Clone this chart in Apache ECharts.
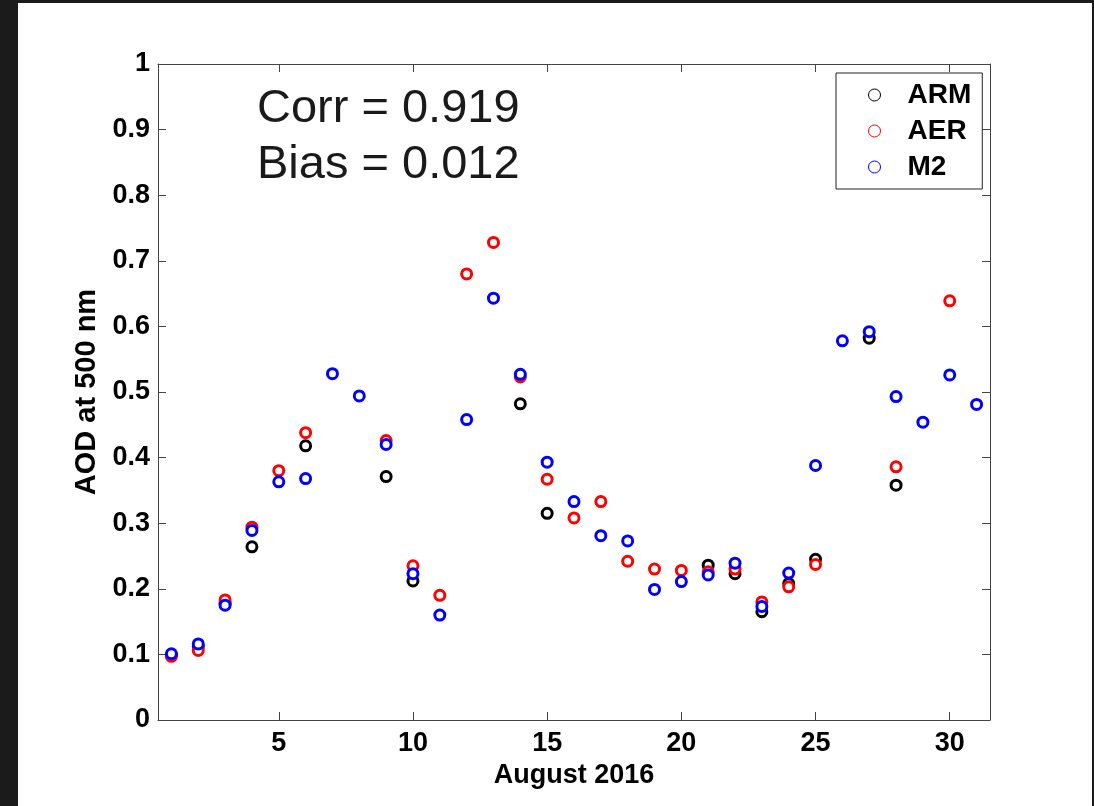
<!DOCTYPE html>
<html>
<head>
<meta charset="utf-8">
<title>AOD at 500 nm - August 2016</title>
<script src="https://cdn.jsdelivr.net/npm/echarts@6/dist/echarts.min.js"></script>
<style>
  html, body { margin: 0; padding: 0; background: #1b1b1b; }
  #main { position: absolute; left: 18px; top: 3px; width: 1074px; height: 803px; background: #fff; }
</style>
</head>
<body>
<div id="main"></div>
<script>
// days of August 2016
const days = [1, 2, 3, 4, 5, 6, 7, 8, 9, 10, 11, 12, 13, 14, 15, 16, 17, 18, 19, 20, 21, 22, 23, 24, 25, 26, 27, 28, 29, 30, 31]
// AOD values (null = no point)
const armValues = [0.099, 0.112, 0.178, 0.264, null, 0.418, null, null, 0.371, 0.212, null, null, null, 0.482, 0.315, null,
  null, null, null, null, 0.236, 0.223, 0.165, 0.208, 0.245, null, 0.582, 0.358, null, null, null]
const aerValues = [0.097, 0.106, 0.183, 0.294, 0.380, 0.438, null, null, 0.426, 0.235, 0.190, 0.680, 0.728, 0.523, 0.367, 0.308,
  0.333, 0.242, 0.230, 0.228, 0.226, 0.230, 0.180, 0.203, 0.237, null, null, 0.386, null, 0.639, null]
const m2Values = [0.101, 0.116, 0.175, 0.289, 0.363, 0.368, 0.528, 0.494, 0.420, 0.223, 0.160, 0.458, 0.643, 0.527, 0.393, 0.333,
  0.281, 0.273, 0.199, 0.211, 0.221, 0.239, 0.173, 0.224, 0.388, 0.578, 0.592, 0.493, 0.454, 0.526, 0.481]
const xTicks = [5, 10, 15, 20, 25, 30]
const seriesNames = ['ARM', 'AER', 'M2']
const seriesColors = ['#000000', '#ff0000', '#0000ff']
const statLines = ['Corr = 0.919', 'Bias = 0.012']

const FONT = '"Liberation Sans", Arial, Helvetica, sans-serif'
const AXIS_COLOR = '#444'

function toPoints(values) {
  const pts = []
  values.forEach((v, i) => {
    if (v !== null) pts.push([days[i], v])
  })
  return pts
}

const chart = echarts.init(document.getElementById('main'))

const valueSets = [armValues, aerValues, m2Values]
// hollow circles: white fill + coloured ring, M2 drawn last (on top)
const series = seriesNames.map((name, i) => ({
  name: name,
  type: 'scatter',
  symbol: 'circle',
  symbolSize: 10,
  itemStyle: {
    color: '#fff',
    borderColor: seriesColors[i],
    borderWidth: 3,
    opacity: 1
  },
  emphasis: { disabled: true },
  z: 2 + i,
  data: toPoints(valueSets[i])
}))

// shared look for the box axes (ticks pointing inward on all four sides)
const tickStyle = {
  show: true,
  inside: true,
  length: 8,
  lineStyle: { color: AXIS_COLOR, width: 1 }
}

chart.setOption({
  animation: false,
  textStyle: { fontFamily: FONT },
  grid: {
    left: 140,
    top: 61,
    right: 102,
    bottom: 86
  },
  legend: {
    orient: 'vertical',
    left: 818,
    top: 70,
    data: seriesNames.map((n, i) => ({
      name: n,
      icon: 'circle',
      itemStyle: { color: '#fff', borderColor: seriesColors[i], borderWidth: 1 }
    })),
    itemWidth: 12,
    itemHeight: 12,
    itemGap: 8,
    padding: [8, 11, 8, 32],
    borderColor: '#222',
    borderWidth: 1,
    backgroundColor: '#fff',
    textStyle: {
      fontFamily: FONT,
      fontSize: 28,
      fontWeight: 'bold',
      color: '#000',
      lineHeight: 28,
      padding: [0, 0, 0, 22]
    },
    selectedMode: false
  },
  graphic: statLines.map((t, i) => ({
    type: 'text',
    left: 239,
    top: 106 + i * 56 - 23,
    style: {
      text: t,
      font: '47px ' + FONT,
      fill: '#1a1a1a'
    }
  })),
  xAxis: [
    {
      type: 'value',
      min: 0.5,
      max: 31.5,
      name: 'August 2016',
      nameLocation: 'middle',
      nameGap: 42,
      nameTextStyle: { fontFamily: FONT, fontSize: 27, fontWeight: 'bold', color: '#000' },
      axisLine: { show: true, onZero: false, lineStyle: { color: AXIS_COLOR, width: 1 } },
      axisTick: Object.assign({ customValues: xTicks }, tickStyle),
      axisLabel: {
        customValues: xTicks,
        margin: 10,
        fontFamily: FONT,
        fontSize: 27,
        fontWeight: 'bold',
        color: '#000'
      },
      splitLine: { show: false }
    },
    {
      type: 'value',
      position: 'top',
      min: 0.5,
      max: 31.5,
      axisLine: { show: true, onZero: false, lineStyle: { color: AXIS_COLOR, width: 1 } },
      axisTick: Object.assign({ customValues: xTicks }, tickStyle),
      axisLabel: { show: false },
      splitLine: { show: false }
    }
  ],
  yAxis: [
    {
      type: 'value',
      min: 0,
      max: 1,
      interval: 0.1,
      name: 'AOD at 500 nm',
      nameLocation: 'middle',
      nameGap: 57,
      nameTextStyle: { fontFamily: FONT, fontSize: 29, fontWeight: 'bold', color: '#000' },
      axisLine: { show: true, onZero: false, lineStyle: { color: AXIS_COLOR, width: 1 } },
      axisTick: tickStyle,
      axisLabel: {
        margin: 8,
        fontFamily: FONT,
        fontSize: 27,
        fontWeight: 'bold',
        color: '#000',
        formatter: v => (v === 0 || v === 1) ? String(v) : v.toFixed(1)
      },
      splitLine: { show: false }
    },
    {
      type: 'value',
      position: 'right',
      min: 0,
      max: 1,
      interval: 0.1,
      axisLine: { show: true, onZero: false, lineStyle: { color: AXIS_COLOR, width: 1 } },
      axisTick: tickStyle,
      axisLabel: { show: false },
      splitLine: { show: false }
    }
  ],
  series: series
})
</script>
</body>
</html>
